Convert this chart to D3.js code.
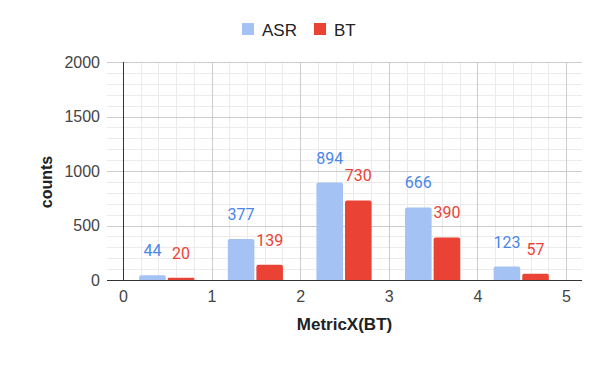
<!DOCTYPE html>
<html>
<head>
<meta charset="utf-8">
<script src="https://cdn.jsdelivr.net/npm/d3@7"></script>
<style>
	body { margin:0; background:#fff; }
	svg { display:block; }
</style>
</head>
<body>
<svg id="chart" width="600" height="371"></svg>
<script>
var binStarts = [0,1,2,3,4];
var asrCounts = [44,377,894,666,123];
var btCounts  = [20,139,730,390,57];
var seriesNames = ["ASR","BT"];
var xTicks = [0,1,2,3,4,5];
var yTicks = [0,500,1000,1500,2000];

var colAsr = "#a4c2f4", colBt = "#ea4335";
var colAsrLabel = "#4a86e8", colBtLabel = "#ea4335";

var svg = d3.select("#chart");

var x = d3.scaleLinear().domain([-0.18,5.18]).range([107,582]);
var y = d3.scaleLinear().domain([0,2000]).range([280,62]);

var grid = svg.append("g");

// minor grid
grid.selectAll("line.hmin").data(d3.range(100,2000,100).filter(function(v){return v%500!=0;}))
	.enter().append("line")
	.attr("x1",x.range()[0]).attr("x2",x.range()[1])
	.attr("y1",function(d){return Math.round(y(d))+0.5;}).attr("y2",function(d){return Math.round(y(d))+0.5;})
	.style("stroke","#ebebeb");
grid.selectAll("line.vmin").data(d3.range(1,26).map(function(i){return i*0.2;}).filter(function(v){return Math.abs(v-Math.round(v))>0.01;}))
	.enter().append("line")
	.attr("x1",function(d){return Math.round(x(d))+0.5;}).attr("x2",function(d){return Math.round(x(d))+0.5;})
	.attr("y1",y(2000)).attr("y2",y(0))
	.style("stroke","#ebebeb");

// major grid
grid.selectAll("line.hmaj").data(yTicks.slice(1))
	.enter().append("line")
	.attr("x1",x.range()[0]).attr("x2",x.range()[1])
	.attr("y1",function(d){return Math.round(y(d))+0.5;}).attr("y2",function(d){return Math.round(y(d))+0.5;})
	.style("stroke","#cccccc");
grid.selectAll("line.vmaj").data(xTicks.slice(1))
	.enter().append("line")
	.attr("x1",function(d){return Math.round(x(d))+0.5;}).attr("x2",function(d){return Math.round(x(d))+0.5;})
	.attr("y1",y(2000)).attr("y2",y(0))
	.style("stroke","#cccccc");

// bars
var barW = x(0.3)-x(0);
function barPath(x0,w,v){
	var top = y(v), bot = y(0), r = Math.min(2,(bot-top)/2);
	return "M"+x0+","+bot+"V"+(top+r)+"Q"+x0+","+top+" "+(x0+r)+","+top+
		"H"+(x0+w-r)+"Q"+(x0+w)+","+top+" "+(x0+w)+","+(top+r)+"V"+bot+"Z";
}
var bars = svg.append("g");
bars.selectAll("path.asr").data(binStarts).enter().append("path")
	.attr("d",function(d,i){return barPath(x(d+0.5)-barW-1.5,barW,asrCounts[i]);})
	.style("fill",colAsr);
bars.selectAll("path.bt").data(binStarts).enter().append("path")
	.attr("d",function(d,i){return barPath(x(d+0.5)+0.5,barW,btCounts[i]);})
	.style("fill",colBt);

// data labels
bars.selectAll("text.asr").data(binStarts).enter().append("text")
	.attr("x",function(d){return x(d+0.5)-barW/2-1.5;})
	.attr("y",function(d,i){return y(asrCounts[i])-19;})
	.attr("text-anchor","middle")
	.style("font-family","Roboto").style("font-size","16px").style("fill",colAsrLabel)
	.text(function(d,i){return asrCounts[i];});
bars.selectAll("text.bt").data(binStarts).enter().append("text")
	.attr("x",function(d){return x(d+0.5)+0.5+barW/2;})
	.attr("y",function(d,i){return y(btCounts[i])-19;})
	.attr("text-anchor","middle")
	.style("font-family","Roboto").style("font-size","16px").style("fill",colBtLabel)
	.text(function(d,i){return btCounts[i];});

// baselines
svg.append("line").attr("x1",x.range()[0]).attr("x2",x.range()[1])
	.attr("y1",y(0)+0.5).attr("y2",y(0)+0.5).style("stroke","#333");
svg.append("line").attr("x1",Math.round(x(0))+0.5).attr("x2",Math.round(x(0))+0.5)
	.attr("y1",y(2000)).attr("y2",y(0)).style("stroke","#333");

// axes
var yAxis = d3.axisLeft(y).tickValues(yTicks).tickFormat(d3.format("d")).tickSize(0).tickPadding(7);
var gy = svg.append("g").attr("transform","translate("+x.range()[0]+",0)").call(yAxis);
var xAxis = d3.axisBottom(x).tickValues(xTicks).tickFormat(d3.format("d")).tickSize(0).tickPadding(11);
var gx = svg.append("g").attr("transform","translate(0,"+y(0)+")").call(xAxis);
[gy,gx].forEach(function(g){
	g.select(".domain").remove();
	g.selectAll("text").style("font-family","Arial, 'Liberation Sans'").style("font-size","16px").style("fill","#444");
});

// titles
svg.append("text").attr("x",(x.range()[0]+x.range()[1])/2).attr("y",330)
	.attr("text-anchor","middle")
	.style("font-family","Arial, 'Liberation Sans'").style("font-size","17px").style("font-weight","bold").style("fill","#222")
	.text("MetricX(BT)");
svg.append("text").attr("transform","translate(52,182) rotate(-90)")
	.attr("text-anchor","middle")
	.style("font-family","Arial, 'Liberation Sans'").style("font-size","16px").style("font-weight","bold").style("fill","#222")
	.text("counts");

// legend
var legend = svg.append("g");
var legX = [242,314];
legend.selectAll("rect").data(seriesNames).enter().append("rect")
	.attr("x",function(d,i){return legX[i];}).attr("y",23)
	.attr("width",12).attr("height",12)
	.style("fill",function(d,i){return i==0?colAsr:colBt;});
legend.selectAll("text").data(seriesNames).enter().append("text")
	.attr("x",function(d,i){return legX[i]+20;}).attr("y",36)
	.style("font-family","Arial, 'Liberation Sans'").style("font-size","17px").style("fill","#222")
	.text(function(d){return d;});
</script>
</body>
</html>
